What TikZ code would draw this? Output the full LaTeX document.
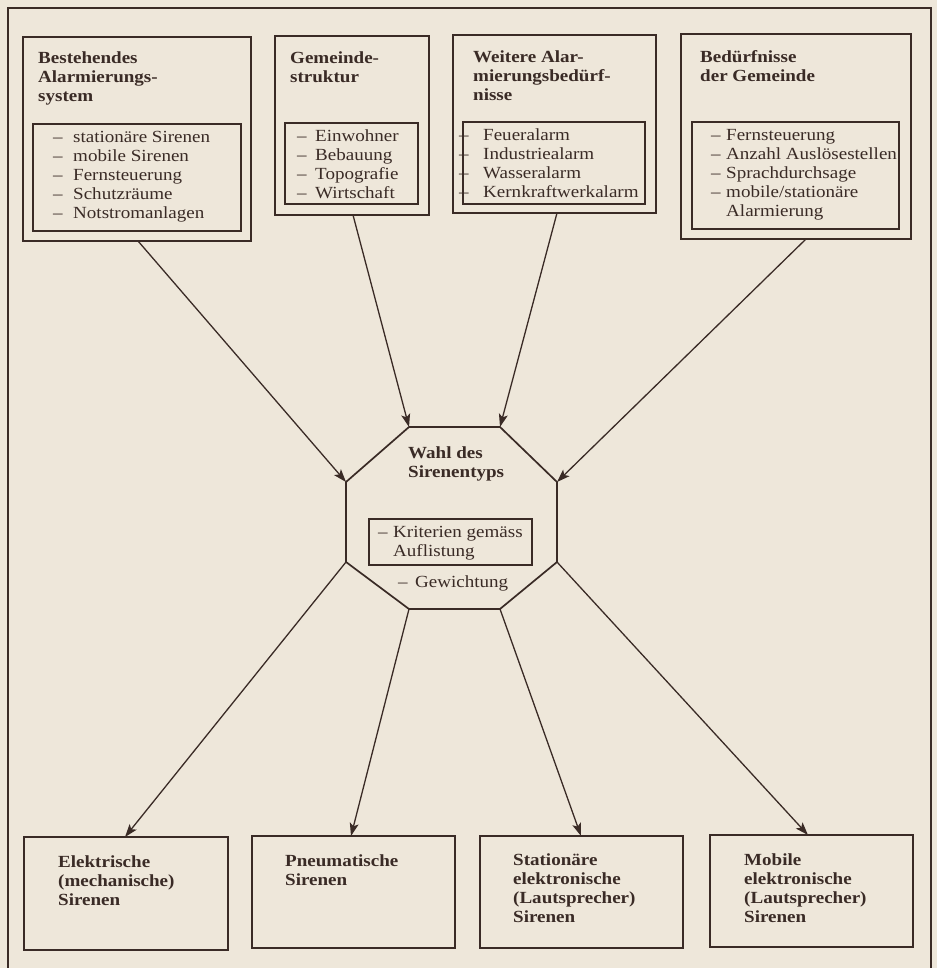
\documentclass[tikz,border=0pt]{standalone}
\usepackage{fontspec}
\setmainfont{Liberation Serif}[FakeStretch=1.12]
\usetikzlibrary{arrows.meta,calc}
\definecolor{ink}{HTML}{3A2B26}
\definecolor{paper}{HTML}{EEE7DA}
\begin{document}
\begin{tikzpicture}[x=1pt,y=-1pt,
  box/.style={draw=ink, line width=1.8pt, anchor=north west, inner sep=0pt, outer sep=0pt},
  head/.style={anchor=base west, inner sep=0pt, font=\fontsize{17}{19}\selectfont\bfseries, text=ink},
  item/.style={anchor=base west, inner sep=0pt, font=\fontsize{17}{19}\selectfont, text=ink},
  arr/.style={draw=ink, line width=1.3pt, -{Stealth[length=13pt,width=9pt,inset=3pt]}},
  octa/.style={draw=ink, line width=1.7pt, line join=miter},
]
\useasboundingbox (0,0) rectangle (937,968);
\fill[paper] (0,0) rectangle (937,968);
\draw[ink, line width=1.4pt] (8,980) -- (8,8) -- (931,8) -- (931,980);

% top boxes
\node[box, minimum width=228pt, minimum height=204pt] (b1) at (23,37) {};
\node[box, minimum width=208pt, minimum height=107pt] (i1) at (33,124) {};
\node[box, minimum width=154pt, minimum height=179pt] (b2) at (275,36) {};
\node[box, minimum width=133pt, minimum height=81pt] (i2) at (285,123) {};
\node[box, minimum width=203pt, minimum height=178pt] (b3) at (453,35) {};
\node[box, minimum width=182pt, minimum height=82pt] (i3) at (463,122) {};
\node[box, minimum width=230pt, minimum height=205pt] (b4) at (681,34) {};
\node[box, minimum width=207pt, minimum height=107pt] (i4) at (692,122) {};

% bottom boxes
\node[box, minimum width=204pt, minimum height=113pt] (bA) at (24,837) {};
\node[box, minimum width=203pt, minimum height=112pt] (bB) at (252,836) {};
\node[box, minimum width=203pt, minimum height=112pt] (bC) at (480,836) {};
\node[box, minimum width=203pt, minimum height=112pt] (bD) at (710,835) {};

% octagon
\coordinate (oT1) at (409,427);
\coordinate (oT2) at (500,427);
\coordinate (oR1) at (557,482);
\coordinate (oR2) at (557,562);
\coordinate (oB2) at (500,609);
\coordinate (oB1) at (409,609);
\coordinate (oL2) at (346,562);
\coordinate (oL1) at (346,482);
\draw[octa] (oT1) -- (oT2) -- (oR1) -- (oR2) -- (oB2) -- (oB1) -- (oL2) -- (oL1) -- cycle;
\node[box, line width=1.4pt, minimum width=163pt, minimum height=46pt] (krit) at (369,519) {};

% headings
\foreach \t [count=\i from 0] in {Bestehendes, Alarmierungs-, system}
  \node[head] (h1-\i) at (38,64+19*\i) {\t};
\foreach \t [count=\i from 0] in {Gemeinde-, struktur}
  \node[head] (h2-\i) at (290,64+19*\i) {\t};
\foreach \t [count=\i from 0] in {Weitere Alar-, mierungsbedürf-, nisse}
  \node[head] (h3-\i) at (473,63+19*\i) {\t};
\foreach \t [count=\i from 0] in {Bedürfnisse, der Gemeinde}
  \node[head] (h4-\i) at (700,63+19*\i) {\t};

% lists
\foreach \t [count=\i from 0] in {stationäre Sirenen, mobile Sirenen, Fernsteuerung, Schutzräume, Notstromanlagen}
  \node[item] (l1-\i) at (53,143+19*\i) {\makebox[20pt][l]{–}\t};
\foreach \t [count=\i from 0] in {Einwohner, Bebauung, Topografie, Wirtschaft}
  \node[item] (l2-\i) at (297,142+19*\i) {\makebox[18pt][l]{–}\t};
\foreach \t [count=\i from 0] in {Feueralarm, Industriealarm, Wasseralarm, Kernkraftwerkalarm}
  \node[item] (l3-\i) at (459,141+19*\i) {\makebox[24pt][l]{–}\t};
\foreach \t [count=\i from 0] in {Fernsteuerung, Anzahl Auslösestellen, Sprachdurchsage, mobile/stationäre}
  \node[item] (l4-\i) at (711,141+19*\i) {\makebox[15pt][l]{–}\t};
\node[item] (l4-4) at (726,217) {Alarmierung};

% center texts
\node[head] (w1) at (408,458) {Wahl des};
\node[head] (w2) at (408,477) {Sirenentyps};
\node[item] (k1) at (378,537) {\makebox[15pt][l]{–}Kriterien gemäss};
\node[item] (k2) at (393,556) {Auflistung};
\node[item] (g1) at (398,587) {\makebox[17pt][l]{–}Gewichtung};

% bottom texts
\foreach \t [count=\i from 0] in {Elektrische, (mechanische), Sirenen}
  \node[head] (tA-\i) at (58,867+19*\i) {\t};
\foreach \t [count=\i from 0] in {Pneumatische, Sirenen}
  \node[head] (tB-\i) at (285,866+19*\i) {\t};
\foreach \t [count=\i from 0] in {Stationäre, elektronische, (Lautsprecher), Sirenen}
  \node[head] (tC-\i) at (513,865+19*\i) {\t};
\foreach \t [count=\i from 0] in {Mobile, elektronische, (Lautsprecher), Sirenen}
  \node[head] (tD-\i) at (744,865+19*\i) {\t};

% arrows in
\draw[arr] ([xshift=115pt]b1.south west) -- (oL1);
\draw[arr] ([xshift=78pt]b2.south west) -- (oT1);
\draw[arr] ([xshift=104pt]b3.south west) -- (oT2);
\draw[arr] ([xshift=125pt]b4.south west) -- (oR1);
% arrows out
\draw[arr] (oL2) -- ([xshift=101pt]bA.north west);
\draw[arr] (oB1) -- ([xshift=99pt]bB.north west);
\draw[arr] (oB2) -- ([xshift=101pt]bC.north west);
\draw[arr] (oR2) -- ([xshift=98pt]bD.north west);
\end{tikzpicture}
\end{document}
